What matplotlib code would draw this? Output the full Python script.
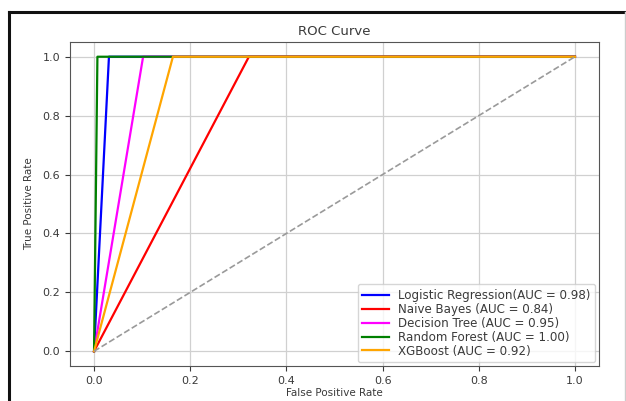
import matplotlib
matplotlib.use("Agg")
import matplotlib.pyplot as plt
from matplotlib.lines import Line2D

# ROC points
models = ["Logistic Regression", "Naive Bayes", "Decision Tree", "Random Forest", "XGBoost"]
auc_labels = ["(AUC = 0.98)", " (AUC = 0.84)", " (AUC = 0.95)", " (AUC = 1.00)", " (AUC = 0.92)"]
colors = ["blue", "red", "magenta", "green", "orange"]
fpr = [
    [0.0, 0.031, 1.0],
    [0.0, 0.322, 1.0],
    [0.0, 0.102, 1.0],
    [0.0, 0.007, 1.0],
    [0.0, 0.164, 1.0],
]
tpr = [
    [0.0, 1.0, 1.0],
    [0.0, 1.0, 1.0],
    [0.0, 1.0, 1.0],
    [0.0, 1.0, 1.0],
    [0.0, 1.0, 1.0],
]
ticks = [0.0, 0.2, 0.4, 0.6, 0.8, 1.0]

text_col = "#3a3a3a"

fig = plt.figure(figsize=(6.26, 4.01), dpi=100)
ax = fig.add_axes([70 / 626, 35 / 401, 529 / 626, 324 / 401])

for name, auc, c, x, y in zip(models, auc_labels, colors, fpr, tpr):
    ax.plot(x, y, color=c, linewidth=1.6, label=name + auc)
ax.plot([0, 1], [0, 1], linestyle="--", color="#9a9a9a", linewidth=1.2)

ax.set_xlim(-0.05, 1.05)
ax.set_ylim(-0.05, 1.05)
ax.set_xticks(ticks)
ax.set_yticks(ticks)
ax.tick_params(labelsize=8, colors=text_col)
ax.grid(True, color="#d0d0d0", linewidth=0.9)
for s in ax.spines.values():
    s.set_color("#555555")

ax.set_title("ROC Curve", fontsize=9.5, color=text_col, pad=5)
ax.set_xlabel("False Positive Rate", fontsize=7.5, color=text_col, labelpad=2)
ax.set_ylabel("True Positive Rate", fontsize=7.5, color=text_col, labelpad=6)

leg = ax.legend(loc="lower right", fontsize=8.6, handlelength=2.2, borderaxespad=0.3,
                labelspacing=0.08, frameon=True)
for t in leg.get_texts():
    t.set_color(text_col)

# screenshot frame
fig.add_artist(Line2D([9 / 626, 9 / 626], [0, 1 - 12 / 401], color="#111111", linewidth=2.2))
fig.add_artist(Line2D([9 / 626, 1], [1 - 12 / 401, 1 - 12 / 401], color="#111111", linewidth=2.2))
fig.add_artist(Line2D([624.5 / 626, 624.5 / 626], [0, 1 - 12 / 401], color="#cccccc", linewidth=1))

fig.savefig("out.png", dpi=100)
